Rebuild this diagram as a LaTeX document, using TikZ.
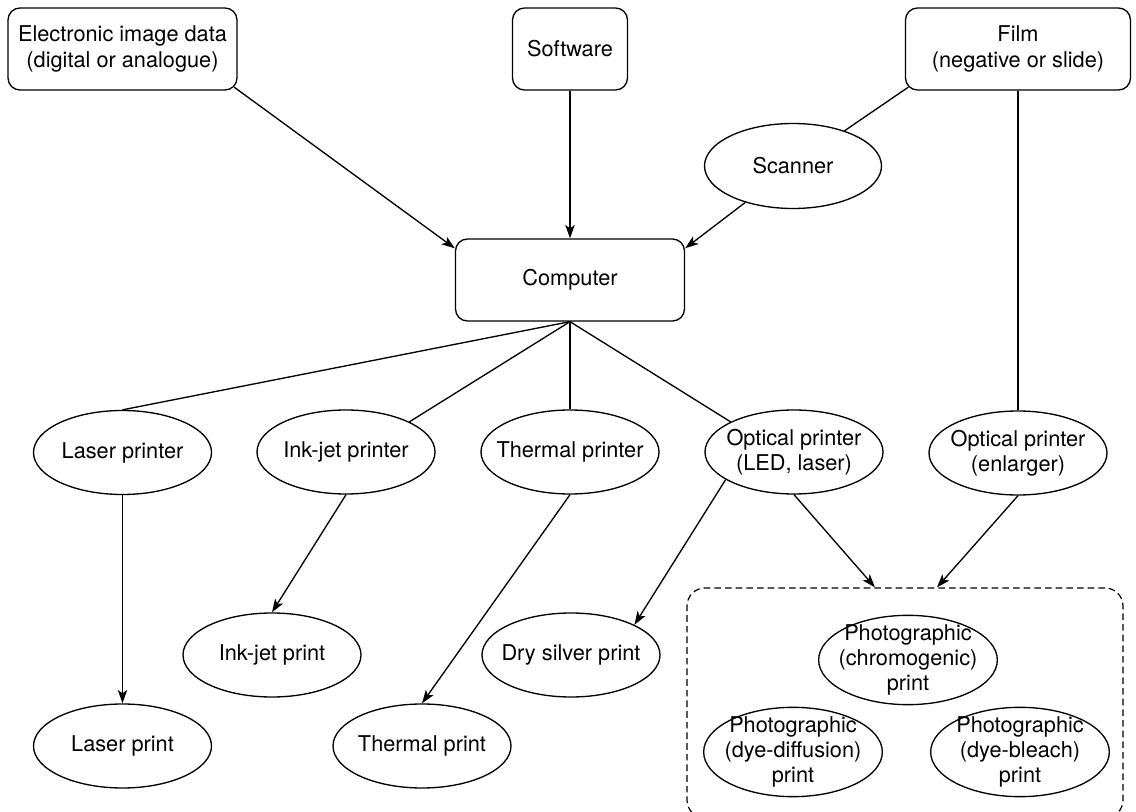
\documentclass[tikz,border=0pt]{standalone}
\usepackage{fontspec}
\setmainfont{TeX Gyre Heros}
\usetikzlibrary{arrows.meta,shapes.geometric,calc}
\begin{document}
\begin{tikzpicture}[x=0.75pt,y=-0.75pt,
  line width=1pt,
  every node/.style={font=\fontsize{16.3}{19}\selectfont, align=center},
  srcbox/.style={draw, rectangle, rounded corners=9pt, inner sep=0pt,
                 minimum width=#1, minimum height=61.5pt},
  oval/.style={draw, ellipse, inner sep=-14pt,
               minimum width=133.5pt, minimum height=63pt},
  bigoval/.style={draw, ellipse, inner sep=-14pt,
                  minimum width=134pt, minimum height=67pt},
  groupbox/.style={draw, rectangle, rounded corners=13.5pt,
                   dash pattern=on 5pt off 3pt, line width=0.9pt,
                   minimum width=327pt, minimum height=172.5pt},
  arr/.style={-{Stealth[length=10pt,width=7pt,inset=2.5pt]}}
]
\useasboundingbox (0,0) rectangle (1136,812);

% sources
\node[srcbox=171.75pt] (elec) at (122.5,49) {Electronic image data\\(digital or analogue)};
\node[srcbox=86.25pt]  (soft) at (570,49)   {Software};
\node[srcbox=168.75pt] (film) at (1018,49)  {Film\\(negative or slide)};

% scanner and computer
\node[oval, minimum width=132.75pt, minimum height=63.75pt] (scan) at (793,166) {Scanner};
\node[srcbox=171.75pt] (comp) at (570,280) {Computer};

% printers
\node[oval] (laserp) at (122.5,452.5) {Laser printer};
\node[oval] (inkp)   at (346,452)     {Ink-jet printer};
\node[oval] (thermp) at (570,452)     {Thermal printer};
\node[oval] (optled) at (794,452)     {Optical printer\\(LED, laser)};
\node[oval] (optenl) at (1018,453)    {Optical printer\\(enlarger)};

% prints
\node[oval] (inkprint)   at (272,655) {Ink-jet print};
\node[oval] (dry)        at (571,655) {Dry silver print};
\node[oval] (laserprint) at (122.5,746) {Laser print};
\node[oval] (thermprint) at (422,746) {Thermal print};

% photographic prints group
\node[groupbox] (photo) at (905,703) {};
\node[bigoval] (chromo) at (908,660)  {Photographic\\(chromogenic)\\print};
\node[bigoval] (diff)   at (793,752)  {Photographic\\(dye-diffusion)\\print};
\node[bigoval] (bleach) at (1020,752) {Photographic\\(dye-bleach)\\print};

% inputs to the computer
\draw[arr] ($(elec.south east)+(-3.5,-3.5)$) -- ($(comp.north west)+(0,10)$);
\draw[arr] (soft.south) -- (soft.south |- comp.north);
\draw ($(film.south west)+(3.5,-3.5)$) -- (scan);
\draw[arr] (scan) -- ($(comp.north east)+(0,10)$);

% computer to printers
\draw (comp.south) -- (laserp.north);
\draw (comp.south) -- (inkp.north east);
\draw (comp.south) -- (thermp.north);
\draw (comp.south) -- (optled.north west);
\draw (film.south) -- (film.south |- optenl.north);

% printers to prints
\draw[arr] (laserp.south) -- (laserprint.north);
\draw[arr] (inkp.south) -- (inkprint.north);
\draw[arr] (thermp.south) -- (thermprint.north);
\draw[arr] (optled.202) -- (dry.north east);
\draw[arr] (optled.south) -- ($(photo.north)+(-30,0)$);
\draw[arr] (optenl.south) -- ($(photo.north)+(32,0)$);
\end{tikzpicture}
\end{document}
